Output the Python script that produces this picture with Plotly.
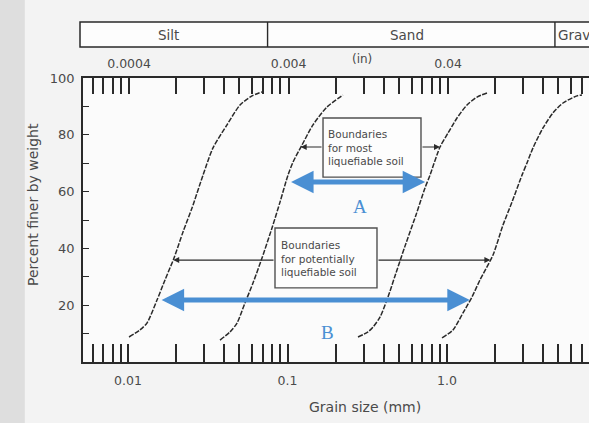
import math
import plotly.graph_objects as go

# ---------------- data ----------------
CURVE1_MM = [0.01015, 0.01189, 0.01315, 0.01520, 0.01706, 0.01943, 0.02212, 0.02519,
             0.02953, 0.03411, 0.04176, 0.05038, 0.05989, 0.06920]
CURVE1_PCT = [8.8, 11.3, 13.7, 21.8, 28.9, 36.6, 45.8, 54.2, 65.8, 75.4, 83.5, 90.5, 93.7, 95.1]

CURVE2_MM = [0.03774, 0.04360, 0.04825, 0.05414, 0.06077, 0.06920, 0.07994, 0.08974,
             0.1007, 0.1083, 0.1233, 0.1445, 0.1769, 0.2228]
CURVE2_PCT = [7.7, 10.6, 13.7, 20.8, 27.8, 36.6, 47.2, 56.3, 65.8, 70.4, 76.4, 83.5, 89.8, 94.0]

CURVE3_MM = [0.2767, 0.3196, 0.3436, 0.3802, 0.4267, 0.4721, 0.5454, 0.6392, 0.7279,
             0.7824, 0.9040, 1.0146, 1.155, 1.335, 1.542, 1.781]
CURVE3_PCT = [8.8, 10.6, 12.3, 15.8, 22.9, 30.3, 40.8, 51.8, 61.3, 65.8, 75.7, 80.6,
              85.9, 90.5, 93.3, 94.7]

CURVE4_MM = [0.9306, 1.0905, 1.260, 1.435, 1.610, 1.943, 2.244, 2.556, 2.953, 3.174,
             3.461, 3.998, 4.618, 5.338, 6.531, 7.021]
CURVE4_PCT = [8.5, 11.3, 17.3, 22.9, 28.9, 37.7, 48.2, 56.3, 65.8, 70.1, 75.4, 82.4,
              87.7, 91.2, 93.7, 94.0]

# log ticks along the grain size axes (mm)
TICK_MM = [0.006, 0.007, 0.008, 0.009, 0.01,
           0.02, 0.03, 0.04, 0.05, 0.06, 0.07, 0.08, 0.09, 0.1,
           0.2, 0.3, 0.4, 0.5, 0.6, 0.7, 0.8, 0.9, 1.0,
           2, 3, 4, 5, 6, 7]
BOTTOM_LABEL_MM = [0.01, 0.1, 1.0]
BOTTOM_LABEL_TEXT = ["0.01", "0.1", "1.0"]
TOP_LABEL_IN = [0.0004, 0.004, 0.04]
TOP_LABEL_TEXT = ["0.0004", "0.004", "0.04"]
MM_PER_IN = 25.4

Y_TICKS = [10, 20, 30, 40, 50, 60, 70, 80, 90, 100]
Y_TICK_TEXT = ["", "20", "", "40", "", "60", "", "80", "", "100"]

SILT_SAND_MM = 0.075
SAND_GRAVEL_MM = 4.75

# liquefiable ranges (blue arrows) and boundary pointers
A_PCT, A_FROM_MM, A_TO_MM = 63.4, 0.103, 0.73
B_PCT, B_FROM_MM, B_TO_MM = 21.8, 0.0159, 1.39
MOST_PCT = 75.7
MOST_LEFT_MM, MOST_RIGHT_MM = 0.121, 0.904
POT_PCT = 35.9
POT_LEFT_MM, POT_RIGHT_MM = 0.0192, 1.87

# ---------------- style ----------------
W, H = 589, 423
ML, MR, MT, MB = 83, 0, 78, 61
XRANGE = [-2.2821, 0.8903]
INK = "#2a2a2a"
TXT = "#4a4a4a"
BLUE = "#4a8fd3"
FONT = "DejaVu Sans, Verdana, sans-serif"
SERIF = "Liberation Serif, Times New Roman, serif"

L = math.log10

fig = go.Figure()
for mm, pct in [(CURVE1_MM, CURVE1_PCT), (CURVE2_MM, CURVE2_PCT),
                (CURVE3_MM, CURVE3_PCT), (CURVE4_MM, CURVE4_PCT)]:
    fig.add_trace(go.Scatter(x=mm, y=pct, mode="lines",
                             line=dict(color=INK, width=1.5, dash="5px,1.5px",
                                       shape="spline", smoothing=0.7),
                             hoverinfo="skip", showlegend=False))
# anchor trace for the top (inch) axis
fig.add_trace(go.Scatter(x=CURVE1_MM, y=CURVE1_PCT, xaxis="x2", mode="lines",
                         line=dict(width=0, color="rgba(0,0,0,0)"),
                         hoverinfo="skip", showlegend=False))

top_vals = [v for v in TICK_MM if v not in BOTTOM_LABEL_MM] + [v * MM_PER_IN for v in TOP_LABEL_IN]
top_text = ["" for v in TICK_MM if v not in BOTTOM_LABEL_MM] + TOP_LABEL_TEXT
bot_text = [BOTTOM_LABEL_TEXT[BOTTOM_LABEL_MM.index(v)] if v in BOTTOM_LABEL_MM else "" for v in TICK_MM]

axis_common = dict(type="log", range=XRANGE, showgrid=False, zeroline=False,
                   showline=True, linecolor=INK, linewidth=1.5,
                   ticks="inside", tickcolor=INK, tickwidth=1.6,
                   tickfont=dict(family=FONT, size=12.5, color=TXT))

fig.update_layout(
    width=W, height=H,
    margin=dict(l=ML, r=MR, t=MT, b=MB, pad=0),
    paper_bgcolor="#f3f3f3",
    plot_bgcolor="#fbfbfb",
    showlegend=False,
    xaxis=dict(**axis_common, tickmode="array", tickvals=TICK_MM, ticktext=bot_text,
               ticklen=18, ticklabelstandoff=6),
    xaxis2=dict(**axis_common, overlaying="x", side="top", anchor="y",
                tickmode="array", tickvals=top_vals, ticktext=top_text,
                ticklen=16, ticklabelstandoff=3),
    yaxis=dict(range=[0, 100], showgrid=False, zeroline=False, showline=True,
               linecolor=INK, linewidth=1.5, ticks="inside", ticklen=6,
               tickcolor=INK, tickwidth=1.2, tickmode="array",
               tickvals=Y_TICKS, ticktext=Y_TICK_TEXT,
               tickfont=dict(family=FONT, size=13, color=TXT), ticklabelstandoff=4),
)

shapes = []
# scanned page shading on the left
shapes.append(dict(type="rect", xref="paper", yref="paper", x0=-0.17, x1=-0.115,
                   y0=-0.3, y1=1.3, line=dict(width=0), fillcolor="#dedede", layer="below"))
# Silt / Sand / Gravel band (shape x on a log axis given in data units here)
py = lambda p: (H - MB - p) / (H - MT - MB)
px = lambda p: (p - ML) / (W - ML)
band_y0, band_y1 = py(47), py(22)
shapes.append(dict(type="rect", xref="paper", yref="paper", x0=px(80), x1=1.05,
                   y0=band_y0, y1=band_y1, line=dict(color=INK, width=1.5),
                   fillcolor="#fdfdfd", layer="below"))
for b in (SILT_SAND_MM, SAND_GRAVEL_MM):
    shapes.append(dict(type="line", xref="x", yref="paper", x0=b, x1=b,
                       y0=band_y0, y1=band_y1, line=dict(color=INK, width=1.4)))
# text boxes
shapes.append(dict(type="rect", xref="x", yref="y", x0=0.167, x1=0.687,
                   y0=65.1, y1=85.9, line=dict(color="#505050", width=1.4), fillcolor="#fdfdfd"))
shapes.append(dict(type="rect", xref="x", yref="y", x0=0.0835, x1=0.364,
                   y0=26.1, y1=47.2, line=dict(color="#505050", width=1.4), fillcolor="#fdfdfd"))
fig.update_layout(shapes=shapes)

ann = []
def txt(x, y, s, size=12, xref="paper", yref="paper", xanchor="center", yanchor="middle", **kw):
    ann.append(dict(x=x, y=y, xref=xref, yref=yref, text=s, showarrow=False,
                    xanchor=xanchor, yanchor=yanchor,
                    font=dict(family=kw.pop("family", FONT), size=size, color=kw.pop("color", TXT)), **kw))

txt(px(168), py(35), "Silt", 13.5)
txt(px(407), py(35), "Sand", 13.5)
txt(L(SAND_GRAVEL_MM), py(35), "Gravel", 13.5, xref="x", xanchor="left", xshift=1)
txt(px(362), py(59), "(in)", 12)
txt(px(365), py(407), "Grain size (mm)", 14)
txt(px(33), py(205), "Percent finer by weight", 14, textangle=-90)
txt(L(0.175), 75.5, "Boundaries<br>for most<br>liquefiable soil", 10.5, xref="x", yref="y",
    xanchor="left", align="left")
txt(L(0.088), 36.6, "Boundaries<br>for potentially<br>liquefiable soil", 10.5, xref="x", yref="y",
    xanchor="left", align="left")
txt(L(0.285), 54.6, "A", 19, xref="x", yref="y", color=BLUE, family=SERIF)
txt(L(0.177), 10.4, "B", 19, xref="x", yref="y", color=BLUE, family=SERIF)

def arrow(x_tip, x_tail, y, color, width, size, head, both=False):
    ann.append(dict(x=L(x_tip), y=y, ax=L(x_tail), ay=y, xref="x", yref="y",
                    axref="x", ayref="y", text="", showarrow=True, arrowhead=head,
                    arrowsize=size, arrowwidth=width, arrowcolor=color,
                    arrowside="end+start" if both else "end"))

arrow(A_TO_MM, A_FROM_MM, A_PCT, BLUE, 5, 0.9, 2, both=True)
arrow(B_TO_MM, B_FROM_MM, B_PCT, BLUE, 5, 0.9, 2, both=True)
arrow(MOST_LEFT_MM, 0.167, MOST_PCT, INK, 1.2, 1, 2)
arrow(MOST_RIGHT_MM, 0.687, MOST_PCT, INK, 1.2, 1, 2)
arrow(POT_LEFT_MM, 0.0835, POT_PCT, INK, 1.2, 1, 2)
arrow(POT_RIGHT_MM, 0.364, POT_PCT, INK, 1.2, 1, 2)

fig.update_layout(annotations=ann)
fig.write_html("out.html", config={"displayModeBar": False},
               post_script="document.body.style.margin='0';")
